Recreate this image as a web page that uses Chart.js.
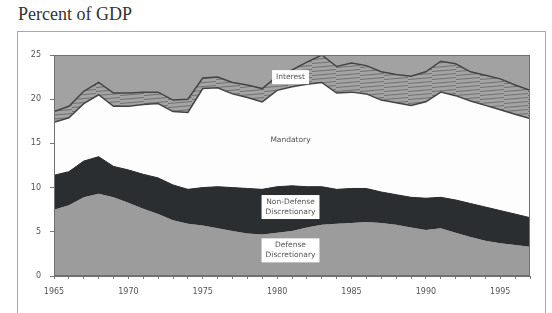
<!DOCTYPE html>
<html>
<head>
<meta charset="utf-8">
<script src="https://cdn.jsdelivr.net/npm/chart.js@4.4.1/dist/chart.umd.min.js"></script>
<style>
  body { margin: 0; background: #fff; width: 552px; height: 313px; overflow: hidden; position: relative; }
  #title { position: absolute; left: 18px; top: 4px; font-family: "Liberation Serif", serif; font-size: 18px; color: #333; }
  #frame { position: absolute; left: 17px; top: 31px; width: 527px; height: 320px; border: 1px solid #a8a8a8; }
  #chart { position: absolute; left: 0; top: 0; }
</style>
</head>
<body>
<div id="title">Percent of GDP</div>
<div id="frame"></div>
<canvas id="chart" width="552" height="313"></canvas>
<script>
// years 1965..1997
const years = [];
for (let y = 1965; y <= 1997; y++) years.push(y);

const yTicks = [0, 5, 10, 15, 20, 25];
const xTickLabels = [1965, 1970, 1975, 1980, 1985, 1990, 1995];

// percent of GDP
const defense = [7.5, 8.0, 8.9, 9.3, 8.9, 8.3, 7.6, 7.0, 6.3, 5.9, 5.7, 5.4, 5.1, 4.8, 4.7, 4.9, 5.1,
  5.5, 5.8, 5.9, 6.0, 6.1, 6.0, 5.8, 5.5, 5.2, 5.4, 4.9, 4.4, 4.0, 3.7, 3.5, 3.3];
const nonDefense = [3.9, 3.8, 4.1, 4.2, 3.5, 3.7, 3.9, 4.1, 4.0, 3.9, 4.3, 4.7, 4.9, 5.1, 5.1, 5.2, 5.1,
  4.6, 4.3, 3.9, 3.9, 3.8, 3.5, 3.4, 3.4, 3.6, 3.5, 3.7, 3.8, 3.8, 3.7, 3.5, 3.3];
const mandatory = [6.0, 6.1, 6.5, 7.0, 6.8, 7.2, 7.9, 8.4, 8.3, 8.7, 11.2, 11.2, 10.6, 10.3, 9.9, 10.9, 11.2,
  11.6, 11.8, 10.9, 10.9, 10.7, 10.4, 10.4, 10.4, 10.9, 11.9, 11.8, 11.6, 11.5, 11.4, 11.3, 11.2];
const interest = [1.2, 1.3, 1.4, 1.4, 1.5, 1.5, 1.4, 1.3, 1.3, 1.5, 1.2, 1.2, 1.3, 1.4, 1.5, 1.6, 1.9,
  2.5, 3.1, 3.0, 3.3, 3.2, 3.2, 3.2, 3.3, 3.4, 3.5, 3.6, 3.3, 3.4, 3.5, 3.3, 3.2];

const labels = [
  { text: ['Interest'], x: 1980.9, y: 22.5, box: true },
  { text: ['Mandatory'], x: 1980.9, y: 15.4, box: false },
  { text: ['Non-Defense', 'Discretionary'], x: 1980.9, y: 7.8, box: true },
  { text: ['Defense', 'Discretionary'], x: 1980.9, y: 2.9, box: true }
];

function hatch() {
  const c = document.createElement('canvas');
  c.width = 24; c.height = 4;
  const g = c.getContext('2d');
  g.fillStyle = '#a4a4a4';
  g.fillRect(0, 0, 24, 4);
  g.strokeStyle = '#707070';
  g.lineWidth = 1;
  g.beginPath();
  g.moveTo(0, 3.5);
  g.lineTo(24, 1.5);
  g.stroke();
  return g.createPattern(c, 'repeat');
}

const toPoints = arr => arr.map((v, i) => ({ x: years[i], y: v }));

const plotBg = {
  id: 'plotBg',
  beforeDraw(chart) {
    const { ctx, chartArea: a } = chart;
    ctx.save();
    ctx.fillStyle = '#a2a2a2';
    ctx.fillRect(a.left, a.top, a.right - a.left, a.bottom - a.top);
    ctx.restore();
  },
  afterDraw(chart) {
    const { ctx, chartArea: a, scales } = chart;
    ctx.save();
    ctx.strokeStyle = '#707070';
    ctx.lineWidth = 1;
    ctx.strokeRect(a.left + 0.5, a.top + 0.5, a.right - a.left - 1, a.bottom - a.top - 1);
    ctx.font = '7.5px "DejaVu Sans", sans-serif';
    ctx.textAlign = 'center';
    ctx.textBaseline = 'middle';
    labels.forEach(l => {
      const px = scales.x.getPixelForValue(l.x);
      const py = scales.y.getPixelForValue(l.y);
      const h = l.text.length * 10 + 4;
      const w = Math.max(...l.text.map(t => ctx.measureText(t).width)) + 8;
      if (l.box) {
        ctx.fillStyle = '#fff';
        ctx.fillRect(px - w / 2, py - h / 2, w, h);
      }
      ctx.fillStyle = '#555';
      l.text.forEach((t, i) => {
        ctx.fillText(t, px, py - h / 2 + 7 + i * 10);
      });
    });
    ctx.restore();
  }
};

new Chart(document.getElementById('chart'), {
  type: 'line',
  data: {
    datasets: [
      { label: 'Defense Discretionary', data: toPoints(defense), fill: 'origin',
        backgroundColor: '#9c9c9c', borderWidth: 0, pointRadius: 0 },
      { label: 'Non-Defense Discretionary', data: toPoints(nonDefense), fill: '-1',
        backgroundColor: '#2b2e30', borderColor: '#2b2e30', borderWidth: 1, pointRadius: 0 },
      { label: 'Mandatory', data: toPoints(mandatory), fill: '-1',
        backgroundColor: '#fdfdfd', borderColor: '#444', borderWidth: 1.5, pointRadius: 0 },
      { label: 'Interest', data: toPoints(interest), fill: '-1',
        backgroundColor: hatch(), borderColor: '#444', borderWidth: 1.5, pointRadius: 0 }
    ]
  },
  options: {
    responsive: false,
    animation: false,
    events: [],
    layout: { padding: { left: 0, top: 55, right: 22, bottom: 0 } },
    plugins: { legend: { display: false }, tooltip: { enabled: false } },
    elements: { line: { tension: 0 } },
    scales: {
      x: {
        type: 'linear',
        min: 1965,
        max: 1997,
        afterFit: s => { s.height = 37; },
        afterBuildTicks: s => { s.ticks = years.map(v => ({ value: v })); },
        grid: { drawOnChartArea: false, tickLength: 3, color: '#777', drawTicks: true },
        border: { color: '#707070' },
        ticks: {
          autoSkip: false,
          maxRotation: 0,
          padding: 8,
          color: '#555',
          font: { family: 'DejaVu Sans', size: 8 },
          callback: v => xTickLabels.includes(v) ? String(v) : ''
        }
      },
      y: {
        stacked: true,
        min: 0,
        max: 25,
        afterFit: s => { s.width = 54; },
        afterBuildTicks: s => { s.ticks = yTicks.map(v => ({ value: v })); },
        grid: { drawOnChartArea: false, tickLength: 4, color: '#777' },
        border: { color: '#707070' },
        ticks: {
          padding: 9,
          color: '#555',
          font: { family: 'DejaVu Sans', size: 8 },
          callback: v => String(v)
        }
      }
    }
  },
  plugins: [plotBg]
});
</script>
</body>
</html>
